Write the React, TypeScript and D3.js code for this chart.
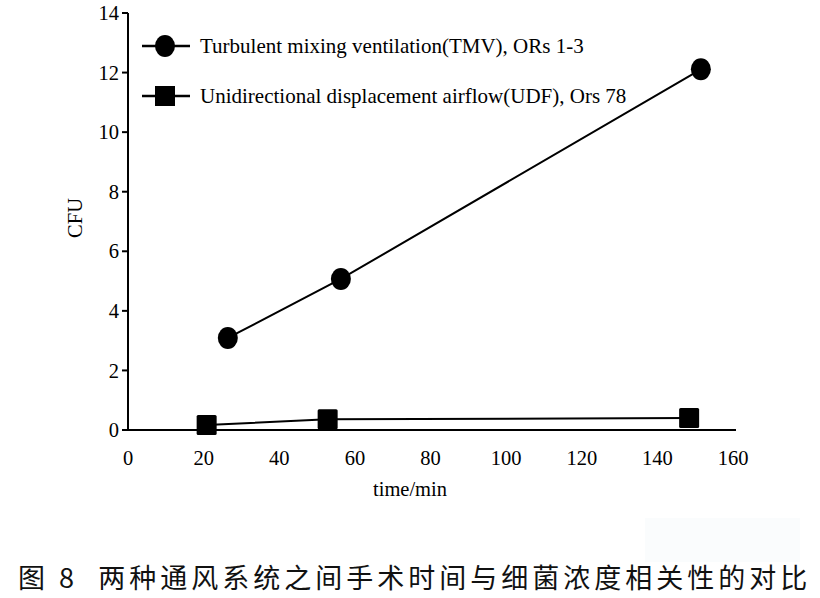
import React from "react";
import * as d3 from "d3";

const xTicks = [0, 20, 40, 60, 80, 100, 120, 140, 160];
const yTicks = [0, 2, 4, 6, 8, 10, 12, 14];
const tmvX = [26.4, 56.3, 151.5];
const tmvY = [3.09, 5.07, 12.11];
const udfX = [20.8, 52.8, 148.4];
const udfY = [0.17, 0.36, 0.4];
const legendLabels = [
  "Turbulent mixing ventilation(TMV), ORs 1-3",
  "Unidirectional displacement airflow(UDF), Ors 78",
];
const xLabel = "time/min";
const yLabel = "CFU";
const caption = "图 8  两种通风系统之间手术时间与细菌浓度相关性的对比";

export default function App() {
  const W = 820, H = 598;
  const x = d3.scaleLinear().domain([0, 160]).range([128, 733]);
  const y = d3.scaleLinear().domain([0, 14]).range([430, 13]);
  const line = d3.line<[number, number]>().x((d) => x(d[0])).y((d) => y(d[1]));
  const tmv: [number, number][] = tmvX.map((v, i) => [v, tmvY[i]]);
  const udf: [number, number][] = udfX.map((v, i) => [v, udfY[i]]);
  const font = "'Liberation Serif', 'Times New Roman', serif";
  const fs = 20.5;
  return (
    <svg width={W} height={H} style={{ position: "absolute", left: 0, top: 0, background: "#fff" }}>
      <rect x={0} y={0} width={W} height={H} fill="#fff" />
      <rect x={645} y={518} width={155} height={44} fill="#fafcfd" />
      {/* axes */}
      <line x1={x(0)} x2={x(0)} y1={y(14)} y2={y(0)} stroke="#000" strokeWidth={2} />
      <line x1={x(0) - 6} x2={x(160) + 3} y1={y(0)} y2={y(0)} stroke="#000" strokeWidth={2} />
      {yTicks.map((t) => (
        <g key={"y" + t}>
          <line x1={x(0) - 6} x2={x(0)} y1={y(t)} y2={y(t)} stroke="#000" strokeWidth={2} />
          <text x={x(0) - 9} y={y(t)} dy="0.35em" textAnchor="end" fontFamily={font} fontSize={fs} fill="#000">
            {t}
          </text>
        </g>
      ))}
      {xTicks.map((t) => (
        <text key={"x" + t} x={x(t)} y={465} textAnchor="middle" fontFamily={font} fontSize={fs} fill="#000">
          {t}
        </text>
      ))}
      <text x={410} y={496} textAnchor="middle" fontFamily={font} fontSize={fs} fill="#000">
        {xLabel}
      </text>
      <text
        transform={`translate(82,218) rotate(-90)`}
        textAnchor="middle"
        fontFamily={font}
        fontSize={fs}
        fill="#000"
      >
        {yLabel}
      </text>
      {/* series */}
      <path d={line(tmv) || ""} fill="none" stroke="#000" strokeWidth={2} />
      <path d={line(udf) || ""} fill="none" stroke="#000" strokeWidth={2} />
      {tmv.map((d, i) => (
        <ellipse key={"c" + i} cx={x(d[0])} cy={y(d[1])} rx={10} ry={11} fill="#000" />
      ))}
      {udf.map((d, i) => (
        <rect key={"s" + i} x={x(d[0]) - 10} y={y(d[1]) - 10} width={20} height={20} rx={1.5} fill="#000" />
      ))}
      {/* legend */}
      <line x1={142} x2={190} y1={46} y2={46} stroke="#000" strokeWidth={2.5} />
      <ellipse cx={165} cy={46} rx={10} ry={11} fill="#000" />
      <text x={200} y={53} fontFamily={font} fontSize={21} fill="#000">
        {legendLabels[0]}
      </text>
      <line x1={142} x2={190} y1={96} y2={96} stroke="#000" strokeWidth={2.5} />
      <rect x={155} y={86} width={20} height={20} fill="#000" />
      <text x={200} y={103} fontFamily={font} fontSize={21} fill="#000">
        {legendLabels[1]}
      </text>
      {/* caption */}
      <text
        x={18}
        y={588}
        fontFamily="'Noto Sans CJK SC', sans-serif"
        fontSize={27}
        letterSpacing={4}
        fill="#111"
        style={{ whiteSpace: "pre" }}
      >
        {caption}
      </text>
    </svg>
  );
}
